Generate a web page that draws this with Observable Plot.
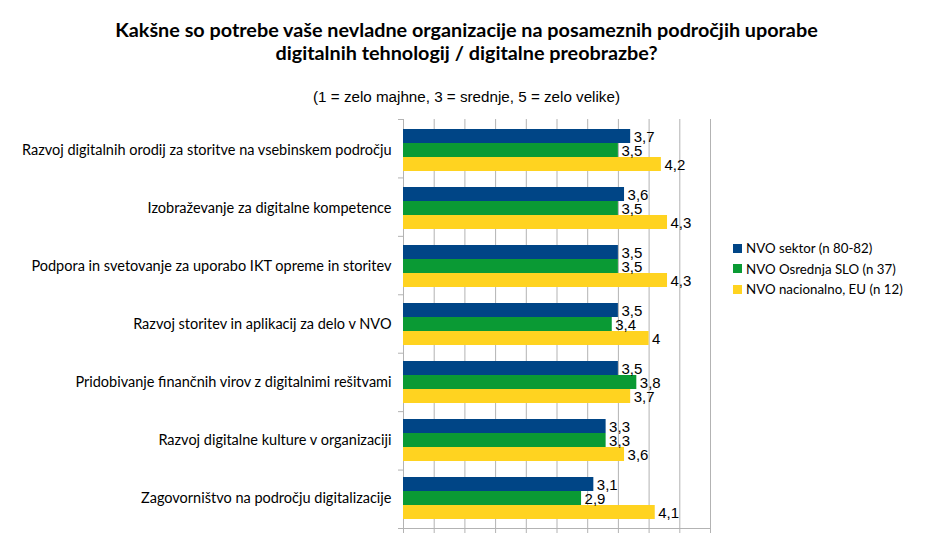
<!DOCTYPE html>
<html>
<head>
<meta charset="utf-8">
<script src="https://cdn.jsdelivr.net/npm/d3@7"></script>
<script src="https://cdn.jsdelivr.net/npm/@observablehq/plot@0.6"></script>
<style>
  body { margin: 0; background: #fff; }
  #wrap { position: relative; width: 927px; height: 539px; overflow: hidden; }
  #wrap svg { position: absolute; left: 0; top: 0; }
  .title { position: absolute; left: 0; width: 933px; top: 18px; text-align: center;
    font-family: Lato, "Noto Sans", sans-serif; font-weight: bold; font-size: 19.8px; line-height: 23px; color: #000; }
  .subtitle { position: absolute; left: 0; width: 933px; top: 88px; text-align: center;
    font-family: "Liberation Sans", Arial, sans-serif; font-size: 15.2px; color: #000; }
  .legend { position: absolute; left: 733px; top: 238px; font-family: Lato, "Noto Sans", sans-serif; font-size: 13.3px; color: #000; }
  .legend div { height: 20.5px; display: flex; align-items: center; }
  .legend span.sw { display: inline-block; width: 9px; height: 9px; margin-right: 4px; }
</style>
</head>
<body>
<div id="wrap">
  <div class="title">Kakšne so potrebe vaše nevladne organizacije na posameznih področjih uporabe<br>digitalnih tehnologij / digitalne preobrazbe?</div>
  <div class="subtitle">(1 = zelo majhne, 3 = srednje, 5 = zelo velike)</div>
  <div class="legend" id="legend"></div>
</div>
<script>
const categories = [
  "Razvoj digitalnih orodij za storitve na vsebinskem področju",
  "Izobraževanje za digitalne kompetence",
  "Podpora in svetovanje za uporabo IKT opreme in storitev",
  "Razvoj storitev in aplikacij za delo v NVO",
  "Pridobivanje finančnih virov z digitalnimi rešitvami",
  "Razvoj digitalne kulture v organizaciji",
  "Zagovorništvo na področju digitalizacije"
];
const seriesNames = ["NVO sektor (n 80-82)", "NVO Osrednja SLO (n 37)", "NVO nacionalno, EU (n 12)"];
const sektor   = [3.7, 3.6, 3.5, 3.5, 3.5, 3.3, 3.1];
const osrednja = [3.5, 3.5, 3.5, 3.4, 3.8, 3.3, 2.9];
const eu       = [4.2, 4.3, 4.3, 4.0, 3.7, 3.6, 4.1];
const colors = ["#004586", "#0a9a34", "#ffd320"];
const xTicks = d3.range(0, 5.001, 0.5);

const seriesValues = [sektor, osrednja, eu];
const data = [];
categories.forEach((c, i) => {
  seriesNames.forEach((s, j) => data.push({category: c, series: s, value: seriesValues[j][i]}));
});

const W = 927, H = 539;
const margins = {marginLeft: 403, marginRight: 217, marginTop: 119, marginBottom: 11};
const grey = "#b3b3b3";

// background: grid, axis lines and category boundary ticks
const bg = Plot.plot({
  width: W, height: H, ...margins,
  x: {domain: [0, 5]},
  y: {domain: [0, categories.length]},
  marks: [
    Plot.gridX(xTicks, {stroke: grey, strokeOpacity: 1}),
    Plot.axisX(xTicks, {anchor: "bottom", tickSize: 5, tickFormat: () => "", stroke: grey, strokeOpacity: 1, label: null}),
    Plot.axisY(d3.range(0, categories.length + 1), {anchor: "left", tickSize: 5, tickFormat: () => "", stroke: grey, strokeOpacity: 1, label: null}),
    Plot.ruleX([0], {stroke: grey}),
    Plot.ruleY([0], {stroke: grey})
  ]
});

// foreground: bars, value labels, category labels
const fg = Plot.plot({
  width: W, height: H, ...margins,
  style: {fontFamily: "Lato, 'Noto Sans', sans-serif", fontSize: "14.5px", color: "#000", background: "transparent"},
  x: {domain: [0, 5], axis: null},
  y: {domain: seriesNames, padding: 0, axis: null},
  fy: {domain: categories, paddingInner: 0.25, paddingOuter: 0.125, tickSize: 0, tickPadding: 12, label: null},
  color: {domain: seriesNames, range: colors},
  marks: [
    Plot.barX(data, {x: "value", y: "series", fy: "category", fill: "series"}),
    Plot.text(data, {x: "value", y: "series", fy: "category", text: d => String(d.value).replace(".", ","),
      textAnchor: "start", dx: 3, dy: 1, fontFamily: "'Liberation Sans', Arial, sans-serif", fontSize: 15, fill: "#000"})
  ]
});

const wrap = document.getElementById("wrap");
wrap.insertBefore(bg, wrap.firstChild);
wrap.insertBefore(fg, bg.nextSibling);

const legend = document.getElementById("legend");
seriesNames.forEach((s, j) => {
  const row = document.createElement("div");
  const sw = document.createElement("span");
  sw.className = "sw"; sw.style.background = colors[j];
  row.appendChild(sw);
  row.appendChild(document.createTextNode(s));
  legend.appendChild(row);
});
</script>
</body>
</html>
